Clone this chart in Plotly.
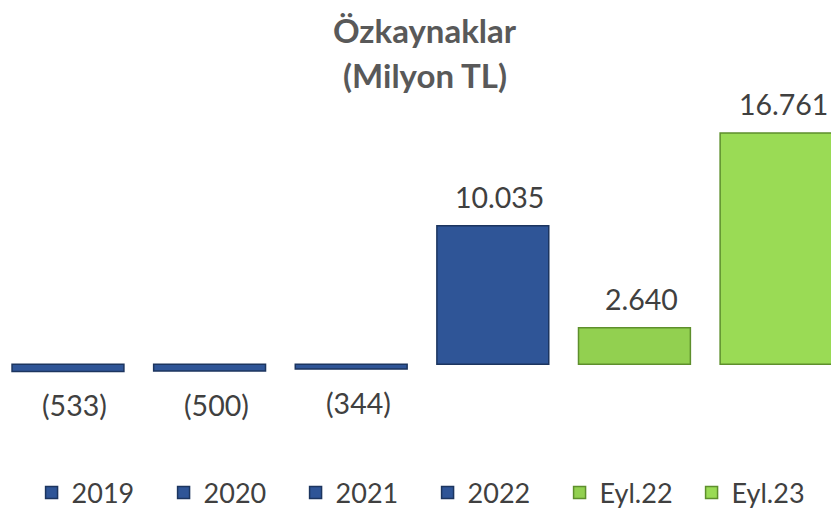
import plotly.graph_objects as go

categories = ["2019", "2020", "2021", "2022", "Eyl.22", "Eyl.23"]
values = [-533, -500, -344, 10035, 2640, 16761]
labels = ["(533)", "(500)", "(344)", "10.035", "2.640", "16.761"]
colors = ["#2F5597", "#2F5597", "#2F5597", "#2F5597", "#92D050", "#9ADB55"]
edge_colors = ["#1C355F", "#1C355F", "#1C355F", "#1C355F", "#5E8F2C", "#5E8F2C"]
title_lines = ["Özkaynaklar", "(Milyon TL)"]

FONT = "Lato, 'Open Sans', sans-serif"

fig = go.Figure()
for i, (c, v, lab, col, ec) in enumerate(zip(categories, values, labels, colors, edge_colors)):
    fig.add_trace(go.Bar(
        x=[i], y=[v], name=c,
        marker=dict(color=col, line=dict(color=ec, width=1.5)),
        width=0.79,
        hoverinfo="skip",
    ))
    fig.add_annotation(
        x=i, y=v, xref="x", yref="y", text=lab, showarrow=False,
        yanchor="bottom" if v >= 0 else "top",
        xshift=7,
        yshift=10 if v >= 0 else -15,
        font=dict(family=FONT, size=28.5, color="#404040"),
    )

for line, ypos in zip(title_lines, [1.1748, 1.0458]):
    fig.add_annotation(
        x=0.512, y=ypos, xref="paper", yref="paper", text="<b>%s</b>" % line,
        showarrow=False, xanchor="center", yanchor="middle",
        font=dict(family=FONT, size=33, color="#595959"),
    )

fig.update_layout(
    width=831, height=508,
    barmode="overlay",
    paper_bgcolor="white", plot_bgcolor="white",
    margin=dict(l=0, r=0, t=91, b=68),
    xaxis=dict(
        range=[-0.48, 5.388], showticklabels=False, showgrid=False,
        zeroline=False, showline=False, ticks="",
    ),
    yaxis=dict(
        range=[-5500, 19800], visible=False, showgrid=False, zeroline=False,
    ),
    legend=dict(
        orientation="h", xref="container", x=0.038, xanchor="left",
        yref="container", y=0.0295, yanchor="middle",
        font=dict(family=FONT, size=27, color="#404040"),
        entrywidth=87, entrywidthmode="pixels",
        traceorder="normal",
        bgcolor="rgba(0,0,0,0)",
    ),
    showlegend=True,
)

fig.write_html(
    "out.html",
    config={"displayModeBar": False},
    post_script="document.body.style.margin='0';",
)
